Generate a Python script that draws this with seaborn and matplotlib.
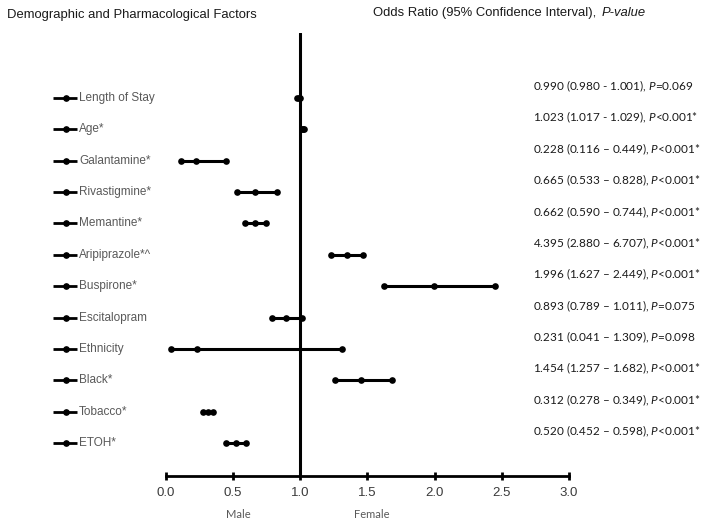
import numpy as np
import pandas as pd
import matplotlib
matplotlib.use("Agg")
import matplotlib.pyplot as plt
import matplotlib.transforms as mtransforms
from matplotlib import font_manager
import seaborn as sns

# ---------------- data ----------------
factors = ["Length of Stay", "Age*", "Galantamine*", "Rivastigmine*", "Memantine*",
           "Aripiprazole*^", "Buspirone*", "Escitalopram", "Ethnicity", "Black*",
           "Tobacco*", "ETOH*"]
odds_ratio = [0.990, 1.023, 0.228, 0.665, 0.662, 4.395, 1.996, 0.893, 0.231, 1.454, 0.312, 0.520]
ci_low = [0.980, 1.017, 0.116, 0.533, 0.590, 2.880, 1.627, 0.789, 0.041, 1.257, 0.278, 0.452]
ci_high = [1.001, 1.029, 0.449, 0.828, 0.744, 6.707, 2.449, 1.011, 1.309, 1.682, 0.349, 0.598]
# positions drawn on the plot (Aripiprazole^ is drawn on a compressed scale)
plot_or = [0.990, 1.023, 0.228, 0.665, 0.662, 1.35, 1.996, 0.893, 0.231, 1.454, 0.312, 0.520]
plot_low = [0.980, 1.017, 0.116, 0.533, 0.590, 1.23, 1.627, 0.789, 0.041, 1.257, 0.278, 0.452]
plot_high = [1.001, 1.029, 0.449, 0.828, 0.744, 1.47, 2.449, 1.011, 1.309, 1.682, 0.349, 0.598]
p_values = ["=0.069", "<0.001*", "<0.001*", "<0.001*", "<0.001*", "<0.001*",
            "<0.001*", "=0.075", "=0.098", "<0.001*", "<0.001*", "<0.001*"]
ci_sep = [" - ", " - ", " \u2013 ", " \u2013 ", " \u2013 ", " \u2013 ",
          " \u2013 ", " \u2013 ", " \u2013 ", " \u2013 ", " \u2013 ", " \u2013 "]
x_ticks = [0.0, 0.5, 1.0, 1.5, 2.0, 2.5, 3.0]
side_labels = ["Male", "Female"]
side_pos = [0.54, 1.53]

# ---------------- fonts ----------------
names = {f.name for f in font_manager.fontManager.ttflist}
narrow = "Liberation Sans Narrow" if "Liberation Sans Narrow" in names else "Liberation Sans"
sans = "Liberation Sans"
cal = "Lato"

sns.set_theme(style="white")
plt.rcParams["font.family"] = [sans, "DejaVu Sans"]
plt.rcParams["mathtext.fontset"] = "custom"
plt.rcParams["mathtext.it"] = cal + ":italic"
plt.rcParams["mathtext.rm"] = cal

W, H = 708, 524
fig = plt.figure(figsize=(W / 100, H / 100), dpi=100)
x0, x3 = 165.7, 569.0
ytop, ybot = 33.0, 476.0
ax = fig.add_axes([x0 / W, 1 - ybot / H, (x3 - x0) / W, (ybot - ytop) / H])

rows = []
for i, f in enumerate(factors):
    for v in (plot_low[i], plot_or[i], plot_high[i]):
        rows.append({"factor": f, "row": i, "value": v})
df = pd.DataFrame(rows)

ax.axvline(1.0, color="black", lw=2.2, zorder=1)
sns.lineplot(data=df, x="value", y="row", units="factor", estimator=None, sort=False,
             color="black", lw=2.2, marker="o", markersize=4.8, markeredgewidth=0,
             legend=False, ax=ax, zorder=3)

ax.set_xlim(0, 3.0)
ax.set_ylim(11 + 33 / 31.36, -65 / 31.36)
ax.set_yticks([])
ax.set_xticks(x_ticks)
ax.set_xticklabels([f"{t:.1f}" for t in x_ticks], fontfamily=narrow, fontsize=9.5,
                   color="#3a3a3a")
ax.set_xlabel("")
ax.set_ylabel("")
for s in ("left", "top", "right"):
    ax.spines[s].set_visible(False)
ax.spines["bottom"].set_linewidth(2.0)
ax.spines["bottom"].set_color("black")
ax.tick_params(axis="x", direction="inout", length=6, width=2, color="black", pad=5,
               bottom=True)

# left labels with small legend-like markers
trans = mtransforms.blended_transform_factory(fig.transFigure, ax.transData)
for i, f in enumerate(factors):
    ax.plot([53 / W, 77 / W], [i, i], transform=trans, color="black", lw=2.0,
            clip_on=False, solid_capstyle="butt")
    ax.plot([65.5 / W], [i], transform=trans, color="black", marker="o", ms=3.8,
            clip_on=False)
    ax.text(79 / W, i, f, transform=trans, va="center", ha="left",
            fontsize=8.5, color="#595959", fontfamily=sans)
    txt = (f"{odds_ratio[i]:.3f} ({ci_low[i]:.3f}{ci_sep[i]}{ci_high[i]:.3f}), "
           f"$\\mathit{{P}}${p_values[i]}")
    ax.text(533 / W, i - 0.37, txt, transform=trans, va="center", ha="left",
            fontsize=8.5, color="#1a1a1a", fontfamily=cal)

# Male / Female annotations
trans2 = mtransforms.blended_transform_factory(ax.transData, fig.transFigure)
for lab, pos in zip(side_labels, side_pos):
    ax.text(pos, 1 - 514 / H, lab, transform=trans2, ha="center", va="center",
            fontsize=8, color="#595959", fontfamily=cal)

# headers
fig.text(7 / W, 1 - 15 / H, "Demographic and Pharmacological Factors", ha="left",
         va="center", fontsize=9.4, color="#1a1a1a", fontfamily=sans)
h1 = fig.text(373 / W, 1 - 13 / H, "Odds Ratio (95% Confidence Interval),", ha="left",
              va="center", fontsize=9.4, color="#1a1a1a", fontfamily=sans)
renderer = fig.canvas.get_renderer()
bb = h1.get_window_extent(renderer)
fig.text((bb.x1 + 5) / W, 1 - 13 / H, "P-value", ha="left", va="center", fontsize=9.4,
         color="#1a1a1a", fontfamily=sans, style="italic")

fig.savefig("out.png", dpi=100, facecolor="white")
